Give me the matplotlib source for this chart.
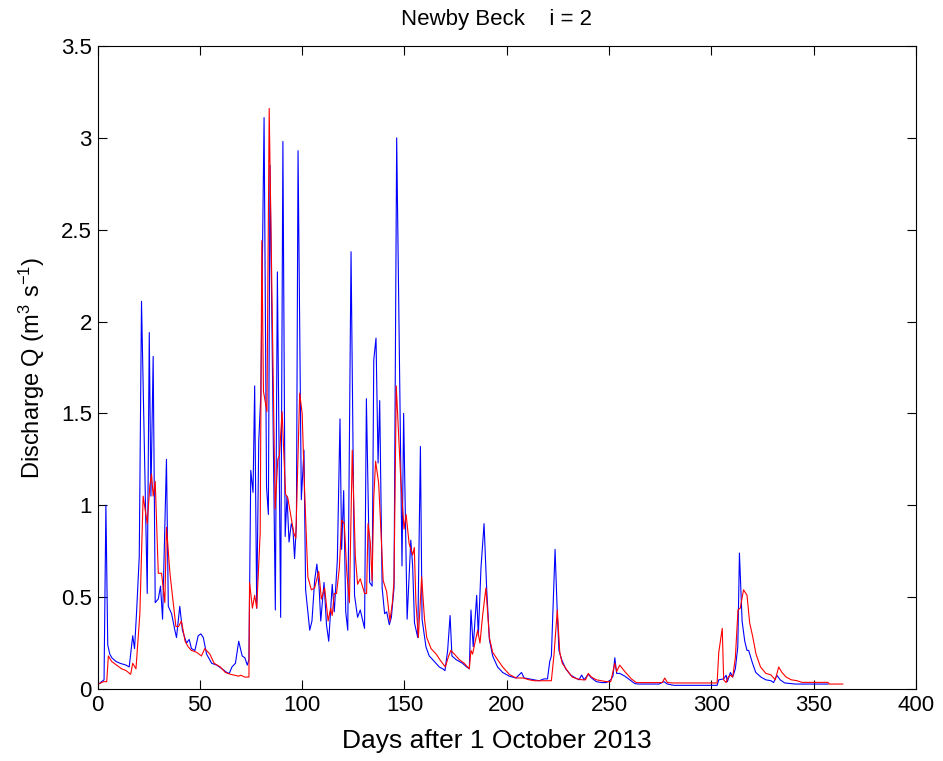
import matplotlib

matplotlib.use("Agg")
import matplotlib.pyplot as plt
from matplotlib.ticker import FormatStrFormatter, MultipleLocator

# observed discharge (blue), days after 1 Oct 2013
obs_days = [
    1, 2, 3.2, 4.1, 5, 6, 7, 9, 11, 14, 15.5, 17.2, 18.1, 19.1, 20.4, 21.5,
    24.3, 25.3, 26.1, 27.2, 28.2, 29.7, 30.8, 31.8, 33.7, 34.6, 36.2, 37.8,
    38.6, 40.2, 41.5, 43.5, 44.8, 45.9, 47.6, 49.2, 50.5, 51.7, 53.3, 55.8,
    58.3, 60.8, 63.2, 64.4, 65.7, 67.4, 69, 70.7, 72, 73.2, 74, 74.9, 76,
    76.8, 77.8, 78.8, 79.8, 81.4, 82.6, 83.5, 84.3, 85.3, 86.9, 87.9, 89.5,
    90.6, 91.7, 92.6, 93.6, 94.7, 95.5, 96.3, 97.2, 98, 99.6, 100.9, 101.7,
    103.7, 104.8, 106.1, 107.2, 108.3, 109.1, 110.7, 111.9, 113, 114.7,
    115.7, 117.2, 118.5, 119.3, 120.3, 121.3, 122.3, 123.9, 125.6, 127.1,
    128.4, 130.5, 131.4, 133, 134.2, 135, 136.1, 137.1, 137.9, 139.1, 140.3,
    141.3, 142.6, 143.6, 144.9, 146.2, 148.8, 149.6, 151.3, 153.1, 154,
    154.9, 156.5, 157.8, 158.6, 160.5, 162.1, 164.6, 167, 168.7, 169.8,
    171.1, 172.3, 173.2, 175.2, 178.4, 180.4, 181.7, 182.5, 183.6, 185.3,
    186.1, 187.4, 188.9, 190.2, 191.5, 193.1, 195.5, 198, 201.2, 204.5,
    207.2, 208.5, 210.9, 213.4, 215.8, 218.2, 219.9, 221, 221.8, 223.6,
    224.7, 225.5, 226.8, 228.8, 231.2, 233.6, 235.3, 236.6, 237.8, 239.8,
    241.4, 243.8, 246.3, 248.7, 250.8, 251.9, 252.8, 253.7, 255.2, 257.7,
    260.1, 262.5, 264.2, 274.4, 276.8, 278.5, 281.7, 302.8, 303.6, 306,
    307.2, 307.8, 309.3, 310.4, 311.7, 312.9, 313.7, 315, 316.3, 317.4,
    318.2, 320.1, 321.7, 324.2, 326.6, 329.1, 330.4, 332, 333.6, 335.8, 341,
    357,
]
obs_q = [
    0.03, 0.04, 0.05, 1.0, 0.24, 0.19, 0.17, 0.15, 0.14, 0.13, 0.12, 0.29,
    0.22, 0.42, 0.72, 2.11, 0.52, 1.94, 1.05, 1.81, 0.47, 0.49, 0.56, 0.38,
    1.25, 0.45, 0.41, 0.32, 0.28, 0.45, 0.32, 0.25, 0.27, 0.22, 0.21, 0.29,
    0.30, 0.28, 0.19, 0.14, 0.13, 0.11, 0.09, 0.085, 0.12, 0.14, 0.26, 0.18,
    0.17, 0.13, 0.16, 1.19, 1.07, 1.65, 0.44, 1.35, 1.60, 3.11, 1.10, 0.95,
    2.85, 1.90, 0.43, 2.27, 0.39, 2.98, 0.83, 1.05, 0.80, 0.90, 0.87, 0.71,
    0.90, 2.93, 1.03, 1.30, 0.54, 0.32, 0.37, 0.59, 0.68, 0.55, 0.37, 0.58,
    0.35, 0.26, 0.57, 0.42, 0.70, 1.47, 0.76, 1.08, 0.42, 0.32, 2.38, 0.51,
    0.39, 0.43, 0.33, 1.58, 0.58, 0.56, 1.79, 1.91, 1.23, 1.57, 0.55, 0.41,
    0.42, 0.35, 0.39, 0.55, 3.00, 0.67, 1.50, 0.38, 0.81, 0.67, 0.36, 0.28,
    1.32, 0.38, 0.23, 0.18, 0.15, 0.12, 0.11, 0.10, 0.21, 0.40, 0.18, 0.16,
    0.14, 0.12, 0.11, 0.43, 0.23, 0.51, 0.29, 0.66, 0.90, 0.54, 0.27, 0.18,
    0.12, 0.09, 0.07, 0.06, 0.09, 0.06, 0.055, 0.05, 0.045, 0.055, 0.055,
    0.15, 0.18, 0.76, 0.41, 0.21, 0.16, 0.11, 0.076, 0.06, 0.05, 0.076,
    0.05, 0.08, 0.06, 0.04, 0.035, 0.035, 0.05, 0.07, 0.17, 0.085, 0.085,
    0.07, 0.05, 0.03, 0.027, 0.027, 0.04, 0.027, 0.02, 0.02, 0.05, 0.055,
    0.075, 0.04, 0.09, 0.065, 0.11, 0.23, 0.74, 0.37, 0.26, 0.21, 0.21,
    0.14, 0.09, 0.065, 0.05, 0.045, 0.035, 0.075, 0.05, 0.033, 0.027, 0.027,
]

# modelled discharge (red)
sim_days = [
    1, 3, 4.5, 5.3, 6.9, 9.3, 11.8, 14, 16.2, 17.2, 18.8, 20.7, 22.3, 24.3,
    25.6, 26.4, 27.2, 28.2, 29.7, 31.3, 32.9, 33.7, 35.4, 37, 38.3, 39.6, 41,
    42.8, 44.3, 45.9, 48.4, 50.8, 52.4, 54.9, 57, 60, 62.5, 65, 67, 69, 70,
    72, 74, 74.3, 75.7, 76.8, 77.8, 79.5, 80.3, 81.1, 82.8, 83.9, 86.8, 88.1,
    88.9, 90.2, 91.9, 93, 94.7, 95.9, 96.9, 98.8, 100, 101.2, 102.8, 104.5,
    106.1, 108.1, 109.4, 111, 112.7, 113.9, 114.7, 115.7, 116.8, 118.2,
    119.3, 120.6, 121.8, 123.1, 124.5, 126, 127.1, 128.4, 130.5, 131.5,
    132.2, 133.3, 134.2, 135, 135.9, 137.4, 138.3, 139.6, 141.3, 142.9,
    144.1, 144.9, 146, 148.2, 149.8, 150.8, 152.3, 154, 154.8, 155.6, 156.8,
    158.4, 159.8, 160.9, 163, 165.5, 167.9, 170, 171.6, 172.7, 174.4, 176.8,
    179.2, 181.7, 182.5, 183.3, 184.6, 185.8, 186.9, 188.2, 189.8, 191.5,
    193.1, 195.5, 198, 201.2, 204.5, 208, 211, 213.4, 221.8, 223.1, 224.7,
    225.9, 227.1, 229.6, 232, 234.5, 236.9, 238.5, 239.8, 241.4, 243.8,
    246.3, 248.7, 250.8, 252.8, 253.7, 255.2, 257.7, 260.9, 263.3, 276,
    277.2, 278.5, 281, 302.8, 303.6, 305.3, 306, 307.2, 308.2, 309.3, 310.4,
    311.7, 313, 314.1, 315.7, 317.4, 318.7, 320.1, 321.8, 324, 326.6, 329.1,
    331.2, 332.9, 334.5, 336.5, 339.1, 341.9, 344.3, 357, 357.6, 364.2,
]
sim_q = [
    0.03, 0.04, 0.04, 0.18, 0.15, 0.13, 0.11, 0.10, 0.08, 0.14, 0.11, 0.41,
    1.05, 0.90, 1.11, 1.17, 1.05, 1.13, 0.63, 0.63, 0.47, 0.88, 0.63, 0.47,
    0.34, 0.34, 0.37, 0.26, 0.23, 0.21, 0.20, 0.18, 0.22, 0.19, 0.14, 0.12,
    0.09, 0.08, 0.075, 0.07, 0.075, 0.065, 0.065, 0.58, 0.44, 0.51, 0.44,
    0.85, 2.44, 1.62, 1.51, 3.16, 0.98, 1.25, 1.27, 1.51, 1.06, 1.04, 0.93,
    0.85, 0.82, 1.61, 1.50, 1.08, 0.61, 0.54, 0.55, 0.64, 0.49, 0.55, 0.37,
    0.44, 0.40, 0.52, 0.52, 0.66, 0.92, 0.90, 0.64, 0.47, 1.30, 0.72, 0.57,
    0.60, 0.52, 0.52, 0.90, 0.80, 0.59, 1.04, 1.24, 1.12, 0.91, 0.59, 0.53,
    0.37, 0.47, 0.59, 1.65, 1.14, 0.87, 0.95, 0.79, 0.73, 0.77, 0.47, 0.28,
    0.61, 0.38, 0.28, 0.22, 0.19, 0.15, 0.12, 0.18, 0.21, 0.19, 0.16, 0.14,
    0.11, 0.21, 0.19, 0.26, 0.32, 0.25, 0.40, 0.55, 0.28, 0.20, 0.16, 0.12,
    0.08, 0.06, 0.06, 0.05, 0.045, 0.045, 0.19, 0.43, 0.20, 0.14, 0.10,
    0.065, 0.055, 0.05, 0.05, 0.085, 0.065, 0.05, 0.045, 0.04, 0.04, 0.14,
    0.095, 0.13, 0.095, 0.055, 0.035, 0.035, 0.06, 0.035, 0.033, 0.033,
    0.20, 0.33, 0.05, 0.035, 0.065, 0.075, 0.065, 0.17, 0.43, 0.44, 0.54,
    0.51, 0.36, 0.29, 0.19, 0.12, 0.085, 0.077, 0.05, 0.12, 0.09, 0.065,
    0.05, 0.045, 0.036, 0.036, 0.027, 0.027,
]

TITLE = "Newby Beck    i = 2"
XLABEL = "Days after 1 October 2013"
YLABEL = "Discharge Q (m$^3$ s$^{-1}$)"


def main() -> None:
    plt.rcParams["font.family"] = ["Liberation Sans", "DejaVu Sans"]
    plt.rcParams["mathtext.default"] = "regular"

    fig = plt.figure(figsize=(9.43, 7.61), dpi=100)
    ax = fig.add_axes([0.1034, 0.0946, 0.8680, 0.8450])

    ax.plot(obs_days, obs_q, color="#0000ff", linewidth=0.8)
    ax.plot(sim_days, sim_q, color="#ff0000", linewidth=0.8)

    ax.set_xlim(0, 400)
    ax.set_ylim(0, 3.5)
    ax.xaxis.set_major_locator(MultipleLocator(50))
    ax.yaxis.set_major_locator(MultipleLocator(0.5))
    ax.yaxis.set_major_formatter(FormatStrFormatter("%g"))
    ax.tick_params(direction="in", length=6.5, width=0.8, top=True, right=True,
                   labelsize=16, pad=4)
    for spine in ax.spines.values():
        spine.set_linewidth(0.8)

    ax.set_title(TITLE, fontsize=16, pad=15, x=0.488)
    ax.set_xlabel(XLABEL, fontsize=19, labelpad=10, x=0.488)
    ax.set_ylabel(YLABEL, fontsize=17, labelpad=10)

    fig.savefig("out.png", dpi=100)
    plt.close(fig)


if __name__ == "__main__":
    main()
